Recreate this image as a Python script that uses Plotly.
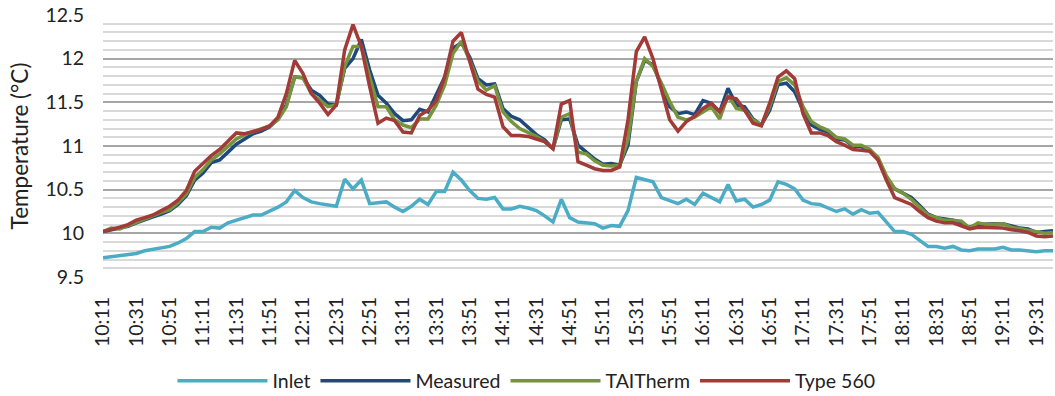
import plotly.graph_objects as go

# time categories every 5 minutes, 10:11 .. 19:41
start_h, start_m = 10, 11
times = []
for k in range(115):
    tot = start_h * 60 + start_m + 5 * k
    times.append(f"{tot // 60}:{tot % 60:02d}")

tick_labels = times[::4]

inlet = [9.72, 9.73, 9.74, 9.76, 9.77, 9.80, 9.82, 9.84, 9.85, 9.89,
         9.94, 10.02, 10.02, 10.07, 10.06, 10.12, 10.15, 10.17, 10.21, 10.21,
         10.25, 10.30, 10.36, 10.49, 10.41, 10.36, 10.34, 10.32, 10.31, 10.62,
         10.51, 10.61, 10.34, 10.35, 10.36, 10.30, 10.25, 10.31, 10.39, 10.33,
         10.48, 10.48, 10.70, 10.61, 10.49, 10.40, 10.39, 10.41, 10.28, 10.28,
         10.31, 10.29, 10.26, 10.20, 10.13, 10.39, 10.18, 10.13, 10.12, 10.11,
         10.06, 10.09, 10.08, 10.26, 10.64, 10.61, 10.59, 10.41, 10.37, 10.34,
         10.39, 10.33, 10.46, 10.41, 10.36, 10.56, 10.37, 10.39, 10.30, 10.33,
         10.38, 10.59, 10.56, 10.51, 10.38, 10.34, 10.33, 10.29, 10.25, 10.28,
         10.22, 10.27, 10.23, 10.24, 10.13, 10.02, 10.02, 9.99, 9.92, 9.85,
         9.85, 9.83, 9.85, 9.81, 9.80, 9.82, 9.82, 9.82, 9.84, 9.81,
         9.81, 9.80, 9.79, 9.80, 9.80]

measured = [10.02, 10.04, 10.05, 10.08, 10.12, 10.16, 10.19, 10.22, 10.26, 10.33,
            10.43, 10.61, 10.69, 10.81, 10.84, 10.93, 11.02, 11.08, 11.14, 11.17,
            11.22, 11.31, 11.47, 11.79, 11.78, 11.64, 11.58, 11.48, 11.47, 11.89,
            12.00, 12.22, 11.87, 11.58, 11.49, 11.37, 11.29, 11.30, 11.42, 11.39,
            11.58, 11.79, 12.12, 12.18, 12.02, 11.77, 11.70, 11.71, 11.43, 11.34,
            11.30, 11.22, 11.13, 11.07, 10.97, 11.30, 11.31, 11.01, 10.93, 10.85,
            10.79, 10.80, 10.78, 11.01, 11.74, 11.98, 11.93, 11.68, 11.45, 11.37,
            11.39, 11.36, 11.52, 11.49, 11.39, 11.66, 11.47, 11.45, 11.31, 11.24,
            11.41, 11.70, 11.72, 11.62, 11.41, 11.24, 11.19, 11.16, 11.08, 11.07,
            11.00, 10.99, 10.96, 10.85, 10.64, 10.51, 10.46, 10.41, 10.32, 10.22,
            10.18, 10.16, 10.15, 10.10, 10.07, 10.10, 10.11, 10.11, 10.11, 10.08,
            10.06, 10.05, 10.01, 10.02, 10.03]

taitherm = [10.02, 10.06, 10.05, 10.09, 10.13, 10.16, 10.20, 10.24, 10.27, 10.35,
            10.45, 10.64, 10.73, 10.84, 10.91, 11.00, 11.08, 11.13, 11.16, 11.20,
            11.23, 11.30, 11.45, 11.79, 11.78, 11.60, 11.53, 11.45, 11.47, 11.91,
            12.14, 12.14, 11.79, 11.45, 11.45, 11.30, 11.24, 11.21, 11.31, 11.31,
            11.47, 11.70, 12.06, 12.20, 11.98, 11.74, 11.64, 11.69, 11.39, 11.28,
            11.20, 11.16, 11.11, 11.05, 10.97, 11.33, 11.37, 10.93, 10.91, 10.83,
            10.78, 10.77, 10.78, 11.07, 11.74, 12.00, 11.91, 11.72, 11.51, 11.33,
            11.30, 11.33, 11.39, 11.45, 11.31, 11.58, 11.43, 11.41, 11.30, 11.24,
            11.45, 11.74, 11.78, 11.70, 11.45, 11.28, 11.22, 11.18, 11.10, 11.08,
            11.01, 11.01, 10.96, 10.87, 10.66, 10.51, 10.46, 10.39, 10.30, 10.21,
            10.18, 10.15, 10.15, 10.14, 10.06, 10.12, 10.10, 10.10, 10.11, 10.07,
            10.05, 10.04, 10.01, 10.00, 10.01]

type560 = [10.02, 10.04, 10.07, 10.10, 10.15, 10.18, 10.21, 10.26, 10.31, 10.38,
           10.49, 10.71, 10.80, 10.89, 10.96, 11.05, 11.15, 11.14, 11.16, 11.19,
           11.23, 11.33, 11.60, 11.98, 11.83, 11.60, 11.49, 11.36, 11.47, 12.10,
           12.39, 12.14, 11.68, 11.26, 11.32, 11.29, 11.16, 11.15, 11.35, 11.41,
           11.52, 11.79, 12.20, 12.30, 11.97, 11.65, 11.59, 11.56, 11.22, 11.12,
           11.12, 11.11, 11.08, 11.05, 10.97, 11.48, 11.52, 10.82, 10.78, 10.74,
           10.72, 10.72, 10.76, 11.30, 12.08, 12.25, 12.00, 11.64, 11.30, 11.17,
           11.28, 11.34, 11.43, 11.49, 11.39, 11.56, 11.54, 11.41, 11.26, 11.23,
           11.49, 11.79, 11.86, 11.77, 11.37, 11.15, 11.15, 11.12, 11.05, 11.01,
           10.96, 10.95, 10.94, 10.84, 10.61, 10.41, 10.37, 10.33, 10.25, 10.18,
           10.14, 10.12, 10.12, 10.09, 10.05, 10.07, 10.07, 10.07, 10.06, 10.04,
           10.03, 10.01, 9.97, 9.96, 9.97]

series = [
    ("Inlet", inlet, "#4BACC6"),
    ("Measured", measured, "#1F497D"),
    ("TAITherm", taitherm, "#77933C"),
    ("Type 560", type560, "#A23B38"),
]

FONT = "Lato, 'Open Sans', sans-serif"

fig = go.Figure()
for name, vals, color in series:
    fig.add_trace(go.Scatter(x=times, y=vals, mode="lines", name=name,
                             line=dict(color=color, width=3.5)))

fig.update_layout(
    width=1055, height=396,
    margin=dict(l=103, r=2, t=15, b=119, autoexpand=False),
    paper_bgcolor="white", plot_bgcolor="white",
    font=dict(family=FONT, size=20, color="#222222"),
    showlegend=True,
    legend=dict(orientation="h", xref="container", yref="container",
                x=0.499, xanchor="center", y=0.038, yanchor="middle",
                font=dict(size=19.5), itemwidth=90, tracegroupgap=0),
)
fig.update_xaxes(
    type="category", range=[0, 114], tickmode="array",
    tickvals=tick_labels, ticktext=tick_labels, tickangle=-90,
    showgrid=False, showline=False, ticks="", ticklabelstandoff=15,
    tickfont=dict(size=19.5), automargin=False,
)
fig.update_yaxes(
    range=[9.5, 12.5], dtick=0.5, tick0=9.5,
    showgrid=True, gridcolor="#A6A6A6", gridwidth=1.6,
    minor=dict(dtick=0.1, showgrid=True, gridcolor="#D9D9D9", gridwidth=1.6),
    zeroline=False, showline=False, ticks="", ticklabelstandoff=18,
    ticklabeloverflow="allow",
    title=dict(text="Temperature (°C)", standoff=10, font=dict(size=22.5)),
    tickfont=dict(size=19.5), automargin=False,
)

fig.write_html("out.html", config={"displayModeBar": False},
               post_script="document.body.style.margin='0';")
